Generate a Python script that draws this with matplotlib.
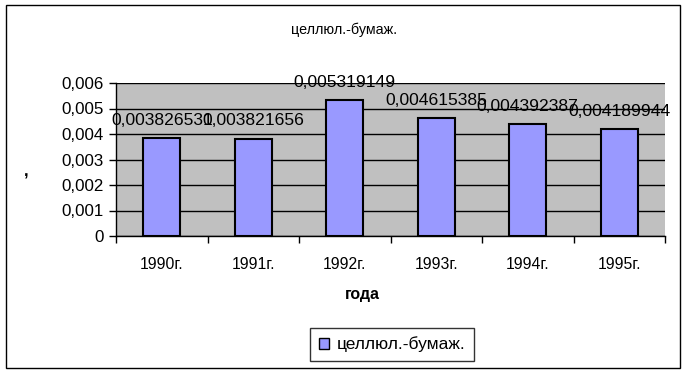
import matplotlib
matplotlib.use("Agg")
import matplotlib.pyplot as plt
from matplotlib.ticker import FuncFormatter, FixedLocator
from matplotlib.patches import Rectangle, Patch

plt.rcParams['font.family'] = ['Liberation Sans', 'DejaVu Sans']

categories = ["1990г.", "1991г.", "1992г.", "1993г.", "1994г.", "1995г."]
values = [0.003826531, 0.003821656, 0.005319149, 0.004615385, 0.004392387, 0.004189944]
value_labels = ["0,003826531", "0,003821656", "0,005319149", "0,004615385", "0,004392387", "0,004189944"]
series_name = "целлюл.-бумаж."
title = "целлюл.-бумаж."
xlabel = "года"
ylabel = ","

fig = plt.figure(figsize=(6.87, 3.73), dpi=100)
ax = fig.add_axes([116/687, 1-236/373, (665-116)/687, (236-83)/373])
ax.set_facecolor('#C0C0C0')

x = list(range(len(categories)))
ax.bar(x, values, width=0.4, color='#9999FF', edgecolor='black', linewidth=1.5, zorder=3)
for xi, v, lab in zip(x, values, value_labels):
    ax.annotate(lab, (xi, v), xytext=(0, 9.4), textcoords='offset points',
                ha='center', va='baseline', fontsize=12.6, zorder=4, annotation_clip=False)

ax.set_xlim(-0.5, len(categories) - 0.5)
ax.set_ylim(0, 0.006)
ax.yaxis.set_major_locator(FixedLocator([0, 0.001, 0.002, 0.003, 0.004, 0.005, 0.006]))
ax.yaxis.set_major_formatter(FuncFormatter(lambda v, p: "0" if abs(v) < 1e-12 else f"{v:.3f}".replace('.', ',')))
ax.grid(axis='y', color='black', linewidth=1, zorder=1)
ax.set_axisbelow(True)

ax.set_xticks(x)
ax.set_xticklabels(categories)
ax.set_xticks([i - 0.5 for i in range(len(categories) + 1)], minor=True)
ax.tick_params(axis='x', which='major', length=0, pad=15, labelsize=11.3)
ax.tick_params(axis='x', which='minor', length=5, width=1, direction='out')
ax.tick_params(axis='y', length=5, width=1, direction='out', labelsize=12.2, pad=4)

for s in ['top', 'right']:
    ax.spines[s].set_visible(False)
ax.spines['left'].set_linewidth(1)
ax.spines['bottom'].set_linewidth(1)

fig.text(344/687, 1-30/373, title, ha='center', va='center', fontsize=10.3)
fig.text(362/687, 1-295/373, xlabel, ha='center', va='center', fontsize=11.5, fontweight='bold')
fig.text(26/687, 1-172/373, ylabel, ha='center', va='center', fontsize=12, fontweight='bold')

leg = fig.legend(handles=[Patch(facecolor='#9999FF', edgecolor='black', label=series_name)],
                 loc='center', bbox_to_anchor=(392/687, 1-344.5/373), frameon=True,
                 fancybox=False, edgecolor='black', fontsize=12.5, handlelength=0.6,
                 handleheight=0.6, handletextpad=0.4, borderpad=0.5)
leg.get_frame().set_linewidth(1)

fig.add_artist(Rectangle((6/687, 1-368/373), (680-6)/687, (368-5)/373,
                         transform=fig.transFigure, fill=False, edgecolor='black', linewidth=1))

fig.savefig("out.png", dpi=100)
